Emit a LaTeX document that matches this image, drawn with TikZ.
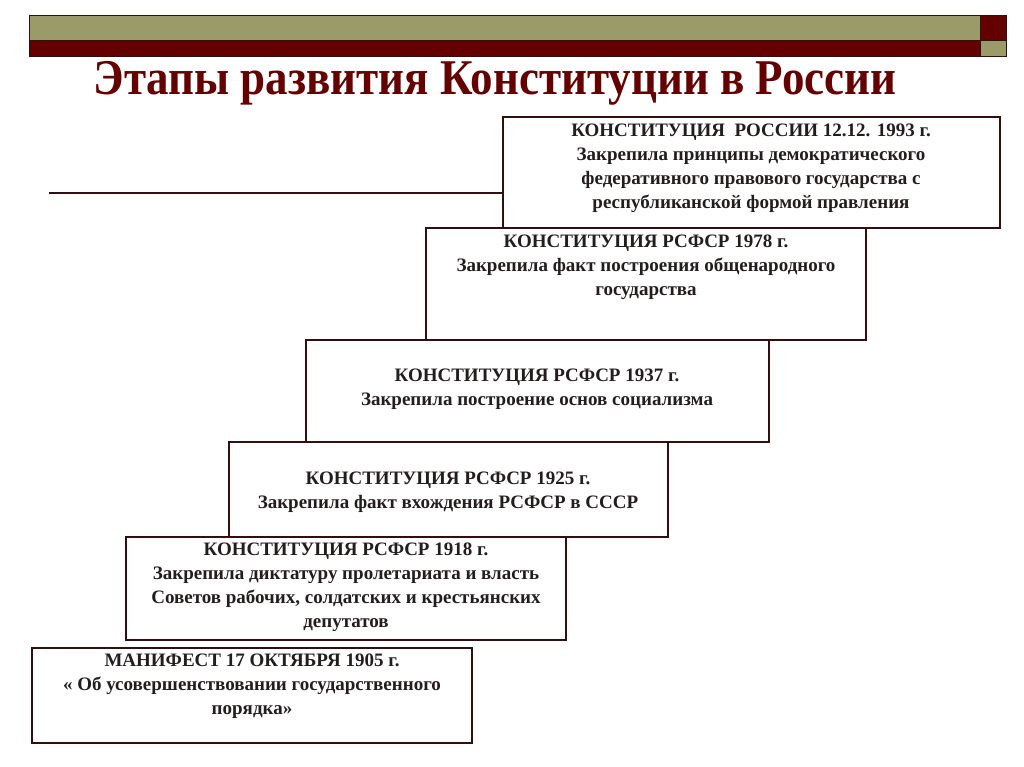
\documentclass[tikz,border=0pt]{standalone}
\usepackage{fontspec}
\setmainfont{Liberation Serif}[FakeStretch=1.0]
\newfontfamily\titlefont{Liberation Serif}[FakeStretch=0.9]
\definecolor{olive}{RGB}{155,155,105}
\definecolor{maroon}{RGB}{100,0,0}
\definecolor{edge}{RGB}{50,15,15}
\definecolor{txt}{RGB}{35,30,30}
\begin{document}
\begin{tikzpicture}[x=1pt,y=-1pt,
  box/.style={draw=edge,line width=1.8pt,fill=white},
  label/.style={anchor=north,align=center,text=txt,font=\bfseries\fontsize{19}{24}\selectfont,inner sep=0pt}]
\useasboundingbox (0,0) rectangle (1024,767);
\fill[olive] (29,15) rectangle (980,40);
\fill[maroon] (29,40) rectangle (980,56);
\fill[maroon] (980,15) rectangle (1006,40);
\fill[olive] (980,40) rectangle (1006,56);
\draw[edge,line width=0.6pt] (29,15) rectangle (1006,56) (29,40)--(1006,40) (980,15)--(980,56);
\node[text=maroon,font=\titlefont\bfseries\fontsize{50}{56}\selectfont] (title) at (495,83) {Этапы развития Конституции в России};
\coordinate (ls) at (49,193);
\coordinate (le) at (503,193);
\draw[edge,line width=1.2pt] (ls)--(le);
\draw[box] (32,648) rectangle (472,743);
\draw[box] (126,537) rectangle (566,640);
\draw[box] (229,442) rectangle (668,537);
\draw[box] (306,340) rectangle (769,442);
\draw[box] (426,228) rectangle (866,340);
\draw[box] (503,117) rectangle (1000,228);
\node[label] (t1993) at (751,124) {КОНСТИТУЦИЯ~~РОССИИ 12.12. 1993 г.\\Закрепила принципы демократического\\федеративного правового государства с\\республиканской формой правления};
\node[label] (t1978) at (646,235) {КОНСТИТУЦИЯ РСФСР 1978 г.\\Закрепила факт построения общенародного\\государства};
\node[label] (t1937) at (537,369) {КОНСТИТУЦИЯ РСФСР 1937 г.\\Закрепила построение основ социализма};
\node[label] (t1925) at (448,472) {КОНСТИТУЦИЯ РСФСР 1925 г.\\Закрепила факт вхождения РСФСР в СССР};
\node[label] (t1918) at (346,543) {КОНСТИТУЦИЯ РСФСР 1918 г.\\Закрепила диктатуру пролетариата и власть\\Советов рабочих, солдатских и крестьянских\\депутатов};
\node[label] (t1905) at (252,654) {МАНИФЕСТ 17 ОКТЯБРЯ 1905 г.\\« Об усовершенствовании государственного\\порядка»};
\end{tikzpicture}
\end{document}
